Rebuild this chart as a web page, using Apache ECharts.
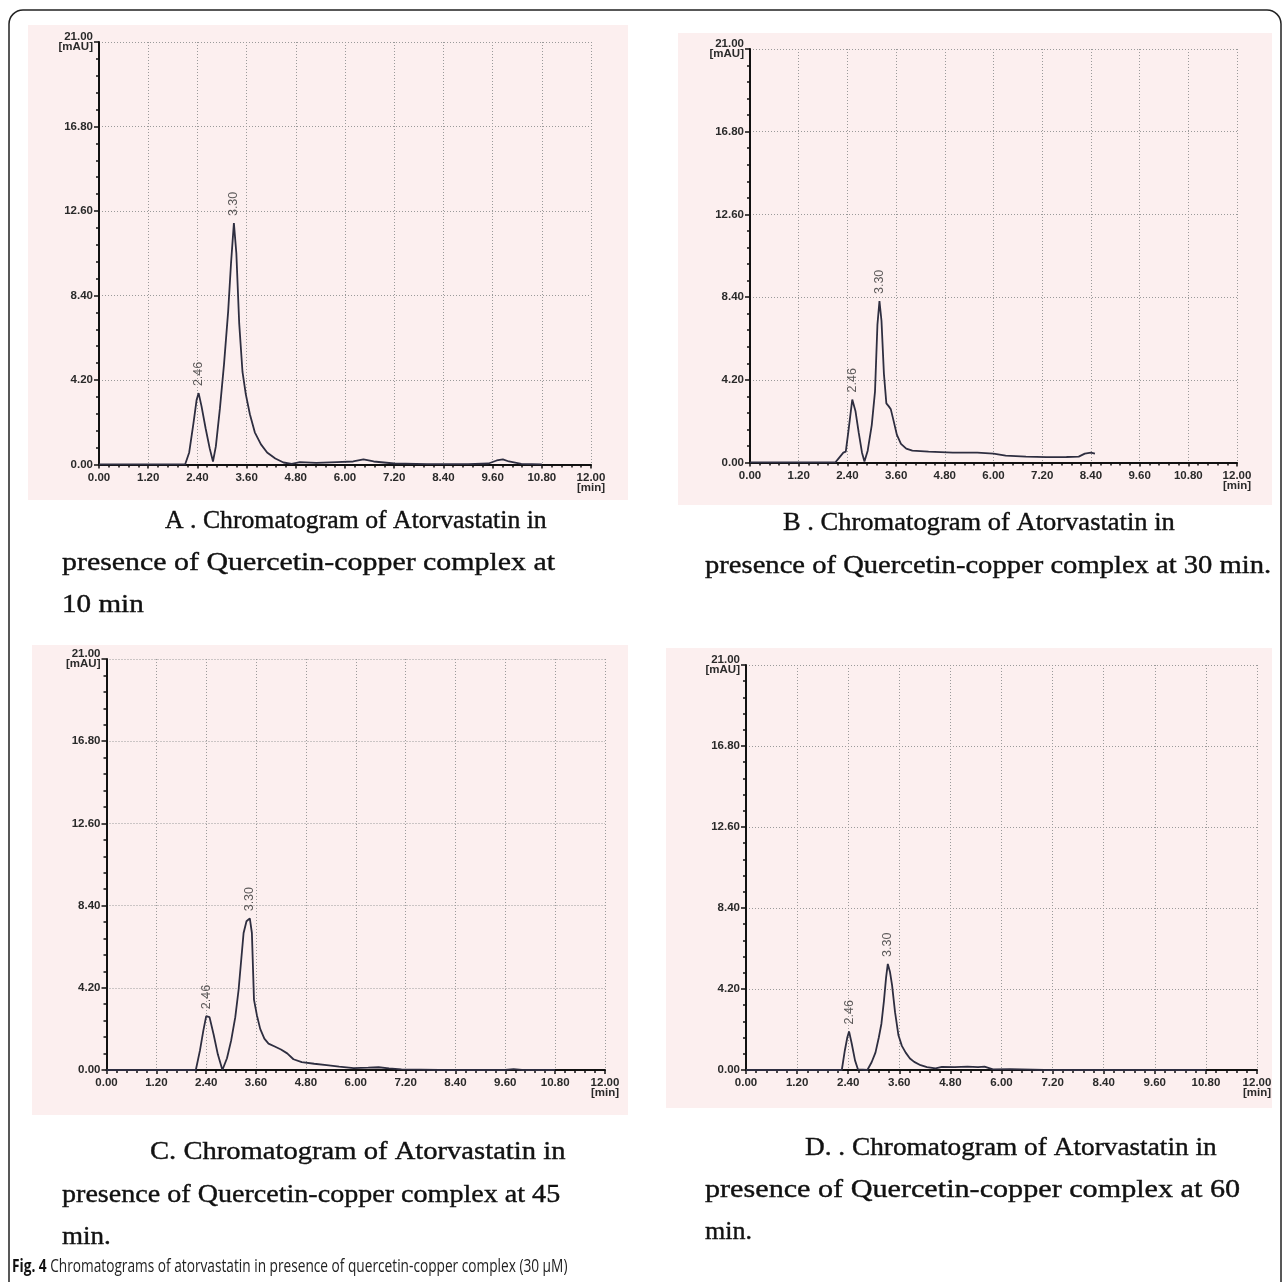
<!DOCTYPE html>
<html><head><meta charset="utf-8">
<script src="https://cdn.jsdelivr.net/npm/echarts@6/dist/echarts.min.js"></script>
<style>html,body{margin:0;padding:0;background:#fff}#c{width:1284px;height:1282px}</style>
</head><body><div id="c"></div><script>
// ---- axis ticks ----
const xTickStep = 1.2, xMax = 12.0;
const yTickStep = 4.2, yMax = 21.0;
const peakNames = ['2.46', '3.30'];

// ---- Panel A (10 min) ----
const timeA = [0, 2.1, 2.2, 2.3, 2.38, 2.43, 2.5, 2.6, 2.7, 2.78, 2.85, 2.95, 3.05, 3.15, 3.22, 3.29, 3.35, 3.42, 3.5, 3.58, 3.68, 3.8, 3.95, 4.1, 4.3, 4.5, 4.7, 4.9, 5.3, 5.8, 6.2, 6.45, 6.7, 7.2, 8.0, 9.0, 9.5, 9.7, 9.85, 10.0, 10.3, 10.8];
const signalA = [0, 0, 0.6, 2.0, 3.2, 3.55, 2.9, 1.8, 0.8, 0.15, 0.9, 2.8, 5.0, 7.6, 10.0, 12.0, 10.5, 7.0, 4.6, 3.5, 2.5, 1.6, 1.0, 0.6, 0.3, 0.1, 0.03, 0.12, 0.08, 0.12, 0.15, 0.25, 0.15, 0.05, 0.02, 0.02, 0.05, 0.2, 0.25, 0.15, 0.03, 0];

// ---- Panel B (30 min) ----
const timeB = [0, 2.1, 2.2, 2.3, 2.36, 2.42, 2.52, 2.6, 2.68, 2.76, 2.82, 2.9, 3.0, 3.08, 3.14, 3.19, 3.24, 3.3, 3.36, 3.42, 3.47, 3.54, 3.62, 3.72, 3.85, 4.0, 4.4, 5.0, 5.6, 6.0, 6.3, 6.8, 7.3, 7.8, 8.1, 8.25, 8.4, 8.5];
const signalB = [0, 0, 0.25, 0.5, 0.55, 1.5, 3.2, 2.6, 1.5, 0.5, 0.05, 0.6, 1.9, 3.6, 7.0, 8.2, 7.2, 4.5, 3.0, 2.85, 2.7, 2.1, 1.4, 0.95, 0.7, 0.6, 0.55, 0.5, 0.5, 0.45, 0.35, 0.3, 0.27, 0.28, 0.3, 0.45, 0.5, 0.45];

// ---- Panel C (45 min) ----
const timeC = [0, 2.15, 2.25, 2.33, 2.4, 2.48, 2.58, 2.68, 2.79, 2.9, 3.0, 3.1, 3.18, 3.25, 3.3, 3.37, 3.45, 3.5, 3.55, 3.62, 3.7, 3.8, 3.9, 4.05, 4.2, 4.35, 4.5, 4.7, 5.0, 5.3, 5.6, 5.95, 6.3, 6.55, 6.8, 7.1, 8.0, 9.6, 9.8, 10.0, 10.8];
const signalC = [0, 0, 1.0, 2.0, 2.75, 2.7, 1.8, 0.8, 0.0, 0.6, 1.5, 2.7, 4.1, 5.8, 7.0, 7.6, 7.75, 7.0, 3.6, 2.8, 2.1, 1.6, 1.35, 1.2, 1.05, 0.85, 0.55, 0.4, 0.32, 0.25, 0.17, 0.1, 0.12, 0.14, 0.08, 0.03, 0.0, 0.0, 0.05, 0.0, 0];

// ---- Panel D (60 min) ----
const timeD = [0, 2.25, 2.32, 2.38, 2.42, 2.48, 2.56, 2.63, 2.85, 2.95, 3.04, 3.12, 3.18, 3.24, 3.29, 3.33, 3.38, 3.43, 3.5, 3.58, 3.66, 3.75, 3.85, 3.95, 4.1, 4.25, 4.45, 4.6, 4.9, 5.2, 5.45, 5.6, 5.8, 6.2, 7.0, 9.0, 10.8];
const signalD = [0, 0, 1.0, 1.7, 2.0, 1.4, 0.5, 0.03, 0, 0.4, 0.9, 1.7, 2.4, 3.6, 4.8, 5.5, 5.1, 4.4, 3.0, 1.8, 1.25, 0.9, 0.6, 0.42, 0.25, 0.15, 0.08, 0.16, 0.15, 0.17, 0.15, 0.18, 0.03, 0.05, 0, 0, 0];

// ---- titles ----
const titlesA = ['A . Chromatogram of Atorvastatin in', 'presence of Quercetin-copper complex at', '10 min'];
const titlesB = ['B . Chromatogram of Atorvastatin in', 'presence of Quercetin-copper complex at 30 min.'];
const titlesC = ['C. Chromatogram of Atorvastatin in', 'presence of Quercetin-copper complex at 45', 'min.'];
const titlesD = ['D. . Chromatogram of Atorvastatin in', 'presence of Quercetin-copper complex at 60', 'min.'];
const captionBold = 'Fig. 4';
const captionText = ' Chromatograms of atorvastatin in presence of quercetin-copper complex (30 \u03bcM)';

// ---------------- layout ----------------
const panels = [
  { t: timeA, s: signalA, grid: { left: 99, top: 42, width: 492, height: 422.5 }, bg: [28, 25, 600, 475],
    titles: titlesA, tpos: [[165, 521], [62, 563], [62, 605]], tsx: [0.99, 1.15, 1.12] },
  { t: timeB, s: signalB, grid: { left: 750, top: 49, width: 487, height: 413.5 }, bg: [678, 33, 594, 472],
    titles: titlesB, tpos: [[783, 523], [705, 566]], tsx: [1.02, 1.1] },
  { t: timeC, s: signalC, grid: { left: 106.5, top: 659, width: 498.5, height: 411 }, bg: [32, 645, 596, 470],
    titles: titlesC, tpos: [[150, 1152], [62, 1195], [62, 1237]], tsx: [1.1, 1.08, 1.04] },
  { t: timeD, s: signalD, grid: { left: 746, top: 665, width: 511, height: 405 }, bg: [666, 648, 606, 460],
    titles: titlesD, tpos: [[805, 1148], [705, 1190], [705, 1232]], tsx: [1.05, 1.16, 1.0] }
];

function findPeak(t, s, lo, hi) {
  let bi = -1;
  for (let i = 0; i < t.length; i++) if (t[i] >= lo && t[i] <= hi && (bi < 0 || s[i] > s[bi])) bi = i;
  return [t[bi], s[bi]];
}

const grids = [], xAxes = [], yAxes = [], series = [], graphics = [];
const axisFont = { fontFamily: 'Liberation Sans, Arial, sans-serif', fontSize: 11.5, fontWeight: 'bold', color: '#2a2a2a' };
panels.forEach((p, k) => {
  grids.push(Object.assign({ containLabel: false }, p.grid));
  xAxes.push({
    type: 'value', gridIndex: k, min: 0, max: xMax, interval: xTickStep,
    axisLine: { show: true, onZero: false, lineStyle: { color: '#111', width: 2 } },
    axisTick: { show: true, length: 4, lineStyle: { color: '#111', width: 1.5 } },
    minorTick: { show: true, splitNumber: 5, length: 3, lineStyle: { color: '#111', width: 1.5 } },
    splitLine: { show: true, lineStyle: { color: '#9a9a9a', type: [1, 2], width: 1 } },
    axisLabel: Object.assign({ margin: 8, lineHeight: 10, showMaxLabel: true, showMinLabel: true,
      formatter: v => (Math.abs(v - xMax) < 1e-6 ? '12.00\n[min]' : v.toFixed(2)) }, axisFont)
  });
  yAxes.push({
    type: 'value', gridIndex: k, min: 0, max: yMax, interval: yTickStep,
    axisLine: { show: true, lineStyle: { color: '#111', width: 2 } },
    axisTick: { show: true, length: 5, lineStyle: { color: '#111', width: 1.5 } },
    minorTick: { show: true, splitNumber: 5, length: 3, lineStyle: { color: '#111', width: 1.5 } },
    splitLine: { show: true, lineStyle: { color: '#9a9a9a', type: [1, 2], width: 1 } },
    axisLabel: Object.assign({ margin: 6, lineHeight: 10, showMaxLabel: true,
      formatter: v => (Math.abs(v - yMax) < 1e-6 ? '21.00\n[mAU]' : v.toFixed(2)) }, axisFont)
  });
  series.push({
    type: 'line', xAxisIndex: k, yAxisIndex: k, showSymbol: false, symbol: 'none', z: 3,
    lineStyle: { color: '#2e2e40', width: 1.8 },
    data: p.t.map((x, i) => [x, p.s[i]])
  });
  const pk1 = findPeak(p.t, p.s, 2.2, 2.7), pk2 = findPeak(p.t, p.s, 3.0, 3.7);
  series.push({
    type: 'scatter', xAxisIndex: k, yAxisIndex: k, symbolSize: 2, z: 4, silent: true,
    itemStyle: { color: 'rgba(0,0,0,0)' },
    labelLayout: { hideOverlap: false },
    data: [[pk1[0], pk1[1], peakNames[0]], [pk2[0], pk2[1], peakNames[1]]],
    label: { show: true, position: 'top', distance: 6, rotate: 90, align: 'left', verticalAlign: 'middle',
      offset: [4, 0], formatter: q => q.data[2], fontFamily: 'Liberation Sans, Arial, sans-serif',
      fontSize: 12.5, color: '#333' }
  });
  graphics.push({ type: 'rect', z: -10, shape: { x: p.bg[0], y: p.bg[1], width: p.bg[2], height: p.bg[3] },
    style: { fill: '#fcefef' } });
  p.titles.forEach((txt, j) => {
    graphics.push({ type: 'text', x: p.tpos[j][0], y: p.tpos[j][1], z: 5, scaleX: p.tsx[j],
      style: { text: txt, fill: '#111', stroke: '#111', lineWidth: 0.4,
        font: '26px "Liberation Serif", "Times New Roman", serif', textVerticalAlign: 'middle' } });
  });
});
// outer frame
graphics.push({ type: 'rect', z: 10, shape: { x: 9, y: 10, width: 1272, height: 1300, r: 14 },
  style: { fill: 'none', stroke: '#222', lineWidth: 1.5 } });
// caption
graphics.push({ type: 'text', x: 12, y: 1267, z: 10, scaleX: 0.76,
  style: { text: '{b|' + captionBold + '}{n|' + captionText + '}', textVerticalAlign: 'middle',
    rich: { b: { fontWeight: 'bold', fontSize: 18, fontFamily: 'Open Sans, sans-serif', fill: '#111' },
            n: { fontSize: 18, fontFamily: 'Open Sans, sans-serif', fill: '#222' } } } });

const chart = echarts.init(document.getElementById('c'), null, { renderer: 'canvas' });
chart.setOption({
  backgroundColor: '#ffffff', animation: false,
  grid: grids, xAxis: xAxes, yAxis: yAxes, series: series, graphic: graphics
});
</script></body></html>
